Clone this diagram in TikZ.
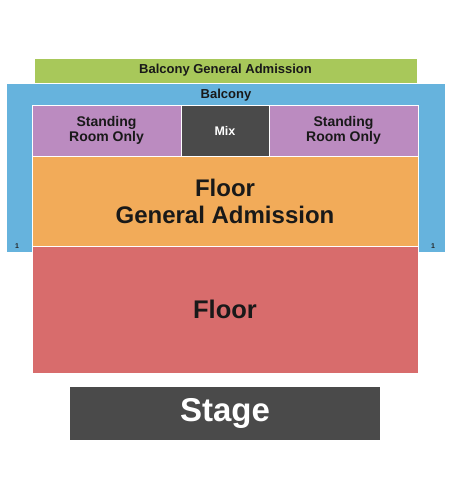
\documentclass[tikz,border=0pt]{standalone}
\usepackage{fontspec}
\setmainfont{Liberation Sans}
\definecolor{gagreen}{HTML}{A8C85A}
\definecolor{balcblue}{HTML}{66B3DD}
\definecolor{sropurple}{HTML}{BB8BC0}
\definecolor{mixgray}{HTML}{4A4A4A}
\definecolor{gaorange}{HTML}{F2AB59}
\definecolor{floorred}{HTML}{D86C6C}
\newcommand{\fsz}[1]{\fontsize{#1}{1.12\dimexpr#1pt\relax}\selectfont}
\begin{document}
\begin{tikzpicture}[x=1pt, y=-1pt]
    \tikzset{
        section/.style={draw=white, line width=0.6pt, inner sep=0pt,
                        font=\bfseries, align=center, text=black!90},
        seatno/.style={font=\bfseries\fsz{7}, text=black!85}
    }
    % Page: 450 x 500
    \useasboundingbox (0,0) rectangle (450,500);

    % Balcony GA strip on top
    \node[section, fill=gagreen, minimum width=383pt, minimum height=25pt,
          font=\bfseries\fsz{13}] (balconyga) at (225.5, 70.5) {Balcony General Admission};

    % Balcony (U shape behind the floor)
    \node[section, draw=none, fill=balcblue, minimum width=438pt, minimum height=168pt] (balcony) at (226, 168) {};
    \node[font=\bfseries\fsz{13}, text=black!90] (balconylabel) at (226, 95) {Balcony};
    \node[seatno] (leftrow) at (17, 246) {1};
    \node[seatno] (rightrow) at (433, 246) {1};

    % Standing room and mix position
    \node[section, fill=sropurple, minimum width=149pt, minimum height=51pt,
          font=\bfseries\fsz{14}] (sroleft) at (106.5, 130.5) {Standing\\Room Only};
    \node[section, fill=mixgray, minimum width=88pt, minimum height=51pt,
          font=\bfseries\fsz{12.5}, text=white] (mix) at (225, 130.5) {Mix};
    \node[section, fill=sropurple, minimum width=149pt, minimum height=51pt,
          font=\bfseries\fsz{14}] (sroright) at (343.5, 130.5) {Standing\\Room Only};

    % Floor
    \node[section, fill=gaorange, minimum width=386pt, minimum height=90pt,
          font=\bfseries\fsz{24}] (floorga) at (225, 201) {Floor\\General Admission};
    \node[section, fill=floorred, minimum width=386pt, minimum height=127pt,
          font=\bfseries\fsz{25.5}] (floor) at (225, 309.5) {Floor};

    % Stage
    \node[section, draw=none, fill=mixgray, minimum width=310pt, minimum height=53pt,
          font=\bfseries\fsz{33}, text=white] (stage) at (225, 413.5) {Stage};
\end{tikzpicture}
\end{document}
